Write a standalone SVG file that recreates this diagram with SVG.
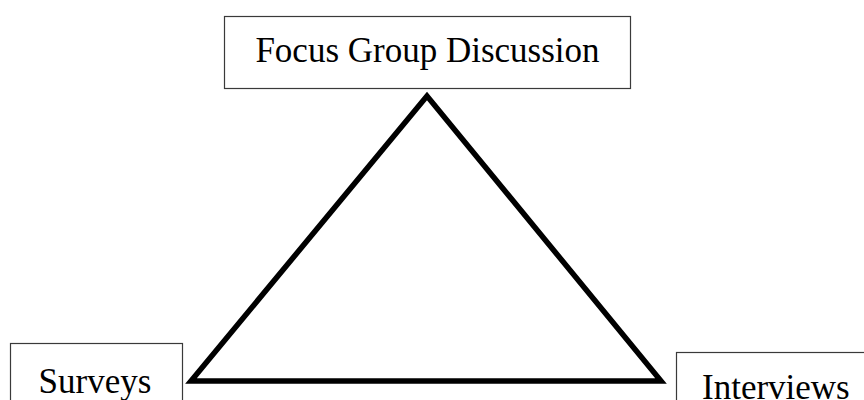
<svg xmlns="http://www.w3.org/2000/svg" width="864" height="400" viewBox="0 0 864 400">
<style>
.box{fill:#fff;stroke:#3a3a3a;stroke-width:1.2}
.lbl{font-family:"Liberation Serif","Times New Roman",serif;font-size:35px;fill:#000}
.tri{fill:none;stroke:#000;stroke-width:5.5;stroke-linejoin:miter;stroke-miterlimit:10}
</style>
<rect width="864" height="400" fill="#fff"/>
<g id="connectors">
<polygon class="tri" points="427,96 191,381 661,381"/>
</g>
<g id="focus-group">
<rect class="box" x="224.5" y="16.5" width="406" height="72"/>
<text class="lbl" x="427.5" y="62" text-anchor="middle">Focus Group Discussion</text>
</g>
<g id="surveys">
<rect class="box" x="10.5" y="343.5" width="172" height="70"/>
<text class="lbl" x="95" y="393" text-anchor="middle">Surveys</text>
</g>
<g id="interviews">
<rect class="box" x="676.5" y="352.5" width="200" height="70"/>
<text class="lbl" x="702" y="399">Interviews</text>
</g>
</svg>
